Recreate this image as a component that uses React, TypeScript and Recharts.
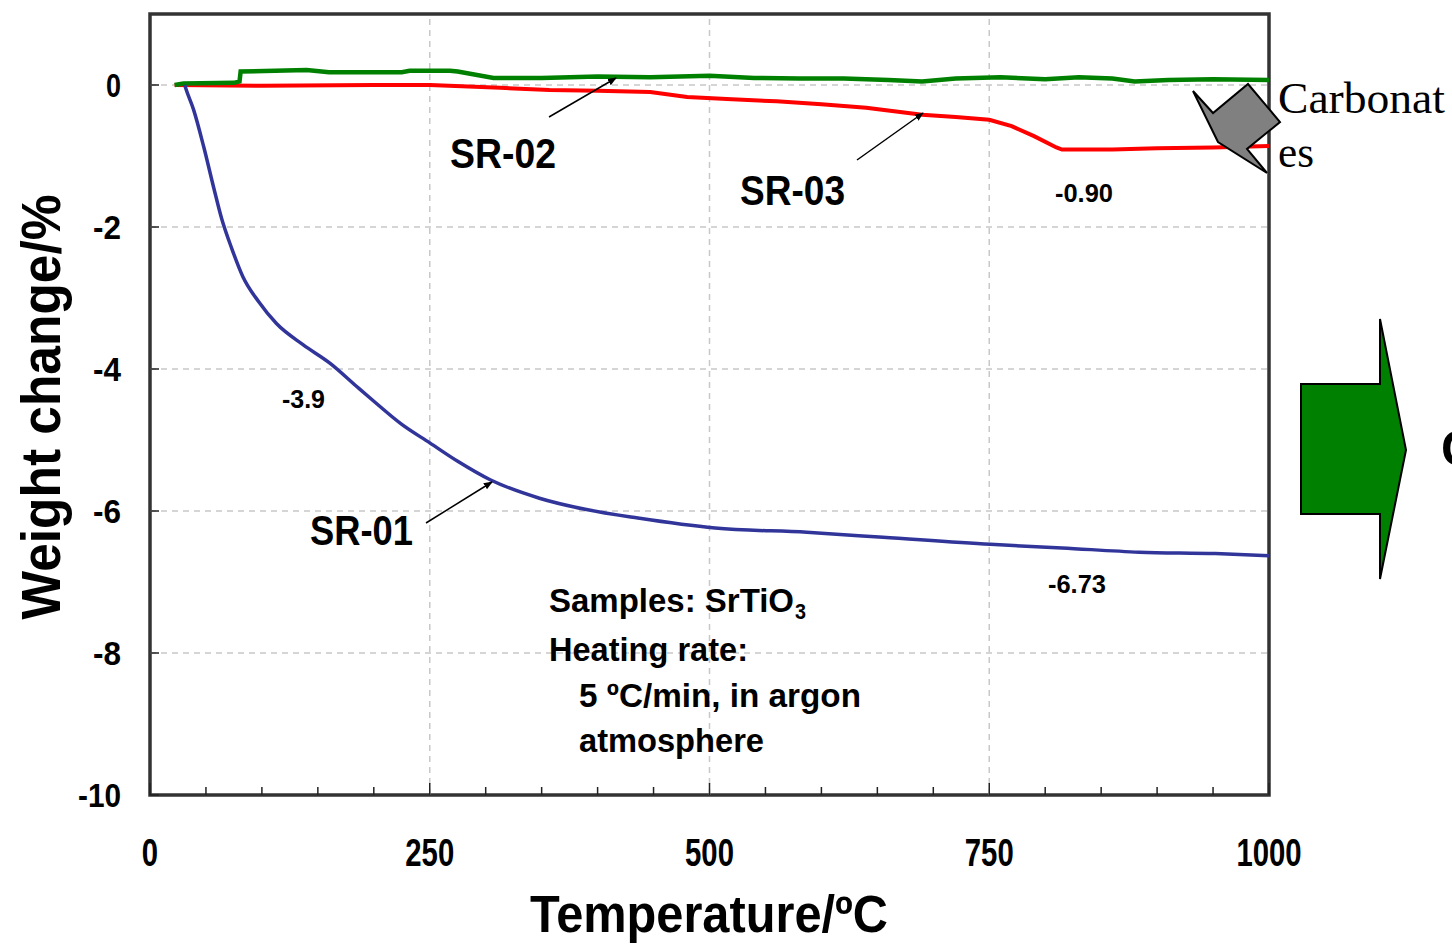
import React from "react";
import { LineChart, Line, XAxis, YAxis, ReferenceLine, ReferenceArea } from "recharts";

// axis ticks
const X_TICKS = [0, 50, 100, 150, 200, 250, 300, 350, 400, 450, 500, 550, 600, 650, 700, 750, 800, 850, 900, 950, 1000];
const Y_TICKS = [0, -2, -4, -6, -8, -10];
const GRID_X = [250, 500, 750];
const GRID_Y = [0, -2, -4, -6, -8];

// SR-01 (blue), temperature / weight change
const SR01_T = [31, 32, 39, 48, 57, 64, 73, 83, 97, 113, 137, 161, 185, 199, 225, 250, 275, 304, 348, 390, 436, 505, 587, 655, 751, 815, 884, 952, 1000];
const SR01_W = [0, -0.05, -0.35, -0.87, -1.45, -1.88, -2.3, -2.7, -3.05, -3.36, -3.66, -3.92, -4.25, -4.44, -4.78, -5.04, -5.3, -5.56, -5.82, -5.98, -6.1, -6.24, -6.3, -6.37, -6.47, -6.52, -6.58, -6.6, -6.63];

// SR-02 (green)
const SR02_T = [22, 30, 75, 80, 81, 140, 160, 225, 232, 268, 275, 307, 350, 400, 447, 500, 540, 580, 620, 660, 690, 720, 760, 800, 830, 860, 880, 910, 950, 1000];
const SR02_W = [0, 0.02, 0.03, 0.05, 0.19, 0.21, 0.18, 0.18, 0.2, 0.2, 0.19, 0.1, 0.1, 0.12, 0.11, 0.13, 0.1, 0.09, 0.09, 0.07, 0.05, 0.09, 0.11, 0.08, 0.11, 0.09, 0.05, 0.07, 0.08, 0.07];

// SR-03 (red)
const SR03_T = [22, 100, 200, 250, 313, 357, 400, 447, 480, 520, 560, 600, 640, 690, 720, 750, 770, 790, 810, 815, 860, 900, 950, 1000];
const SR03_W = [0, -0.01, 0, 0, -0.04, -0.07, -0.08, -0.1, -0.17, -0.2, -0.23, -0.27, -0.32, -0.42, -0.45, -0.49, -0.58, -0.72, -0.88, -0.91, -0.91, -0.89, -0.88, -0.86];

const zip = (ts: number[], ws: number[]) => ts.map((t, i) => ({ t, w: ws[i] }));
const SR01 = zip(SR01_T, SR01_W);
const SR02 = zip(SR02_T, SR02_W);
const SR03 = zip(SR03_T, SR03_W);

const SANS = "'Liberation Sans Narrow', 'Liberation Sans', Arial, sans-serif";
const SERIF = "'Liberation Serif', 'Times New Roman', serif";
const FRAME = "#333333";

function XTick(props: any) {
  const { x, y, payload } = props;
  const v = payload.value as number;
  const major = v % 250 === 0;
  const s = String(v);
  return (
    <g>
      <line x1={x} x2={x} y1={y} y2={y - (major ? 12 : 8)} stroke="#222" strokeWidth={1.5} />
      {major && (
        <text x={x} y={y + 71} textAnchor="middle" fontFamily={SANS} fontWeight="bold" fontSize={38}
          textLength={s.length * 16.3} lengthAdjust="spacingAndGlyphs" fill="#000">{s}</text>
      )}
    </g>
  );
}

function YTick(props: any) {
  const { x, y, payload } = props;
  const s = String(payload.value);
  const len = s.replace("-", "").length * 15 + (s.startsWith("-") ? 13 : 0);
  return (
    <g>
      <line x1={x} x2={x + 9} y1={y} y2={y} stroke="#222" strokeWidth={1.5} />
      <text x={x - 29} y={y + 12} textAnchor="end" fontFamily={SANS} fontWeight="bold" fontSize={34}
        textLength={len} lengthAdjust="spacingAndGlyphs" fill="#000">{s}</text>
    </g>
  );
}

function T(p: { x: number; y: number; len: number; size: number; children: React.ReactNode; family?: string; weight?: string }) {
  return (
    <text x={p.x} y={p.y} fontSize={p.size} fontFamily={p.family ?? SANS} fontWeight={p.weight ?? "bold"}
      textLength={p.len} lengthAdjust="spacingAndGlyphs" fill="#000">{p.children}</text>
  );
}

function Overlay() {
  return (
    <svg width={1452} height={944} style={{ position: "absolute", left: 0, top: 0, pointerEvents: "none" }}>
      <defs>
        <marker id="ah" viewBox="0 0 10 10" refX="9" refY="5" markerWidth="9" markerHeight="9" orient="auto" markerUnits="userSpaceOnUse">
          <path d="M0,1 L10,5 L0,9 z" fill="#000" />
        </marker>
      </defs>
      {/* axis titles */}
      <text transform="translate(60,407) rotate(-90)" textAnchor="middle" fontSize={55} fontFamily={SANS} fontWeight="bold"
        textLength={425} lengthAdjust="spacingAndGlyphs">Weight change/%</text>
      <T x={530} y={932} len={358} size={51}>Temperature/ºC</T>

      {/* series labels and arrows */}
      <T x={450} y={168} len={106} size={42}>SR-02</T>
      <T x={740} y={205} len={105} size={42}>SR-03</T>
      <T x={310} y={545} len={103} size={42}>SR-01</T>
      <line x1={549} y1={117} x2={616} y2={78} stroke="#000" strokeWidth={1.5} markerEnd="url(#ah)" />
      <line x1={857} y1={160} x2={923} y2={113} stroke="#000" strokeWidth={1.5} markerEnd="url(#ah)" />
      <line x1={426} y1={523} x2={492} y2={482} stroke="#000" strokeWidth={1.5} markerEnd="url(#ah)" />

      <T x={1055} y={202} len={58} size={26}>-0.90</T>
      <T x={282} y={408} len={43} size={26}>-3.9</T>
      <T x={1048} y={593} len={58} size={26}>-6.73</T>

      {/* conditions */}
      <T x={549} y={612} len={245} size={33}>Samples: SrTiO</T>
      <T x={795} y={619} len={11} size={22}>3</T>
      <T x={549} y={661} len={199} size={33}>Heating rate:</T>
      <T x={579} y={707} len={282} size={33}>5 ºC/min, in argon</T>
      <T x={579} y={752} len={185} size={33}>atmosphere</T>

      {/* carbonates callout */}
      <polygon points="1193,91 1213,113 1248,84 1280,122 1247,149 1267,173 1218,142"
        fill="#808080" stroke="#000" strokeWidth={2} strokeLinejoin="miter" />
      <T x={1278} y={113} len={167} size={45} family={SERIF} weight="normal">Carbonat</T>
      <T x={1278} y={167} len={36} size={45} family={SERIF} weight="normal">es</T>

      {/* green arrow */}
      <polygon points="1301,384 1380,384 1380,319 1406,450 1380,579 1380,514 1301,514"
        fill="#008000" stroke="#000" strokeWidth={2} />
      <text x={1441} y={466} fontSize={50} fontFamily={SANS} fontWeight="bold">C</text>
    </svg>
  );
}

export default function App() {
  return (
    <div style={{ position: "absolute", left: 0, top: 0, width: 1452, height: 944, background: "#fff", overflow: "hidden" }}>
      <LineChart width={1452} height={944} margin={{ top: 14, right: 183, bottom: 0, left: 0 }}>
        <XAxis type="number" dataKey="t" domain={[0, 1000]} ticks={X_TICKS} interval={0} allowDataOverflow
          height={149} tickSize={0} tickMargin={0} axisLine={false} tickLine={false} tick={<XTick />} />
        <YAxis type="number" domain={[-10, 1]} ticks={Y_TICKS} interval={0} allowDataOverflow
          width={150} tickSize={0} tickMargin={0} axisLine={false} tickLine={false} tick={<YTick />} />
        {GRID_X.map((v) => (
          <ReferenceLine key={"gx" + v} x={v} stroke="#c8c8c8" strokeWidth={1.5} strokeDasharray="6 5" />
        ))}
        {GRID_Y.map((v) => (
          <ReferenceLine key={"gy" + v} y={v} stroke="#c8c8c8" strokeWidth={1.5} strokeDasharray="6 5" />
        ))}
        <Line data={SR03} dataKey="w" type="linear" stroke="#ff0000" strokeWidth={4} dot={false} isAnimationActive={false} />
        <Line data={SR02} dataKey="w" type="linear" stroke="#008000" strokeWidth={4.5} dot={false} isAnimationActive={false} />
        <Line data={SR01} dataKey="w" type="monotone" stroke="#31359a" strokeWidth={3.5} dot={false} isAnimationActive={false} />
        <ReferenceArea x1={0} x2={1000} y1={-10} y2={1} fill="none" fillOpacity={0} stroke={FRAME} strokeWidth={3.5} />
      </LineChart>
      <Overlay />
    </div>
  );
}
